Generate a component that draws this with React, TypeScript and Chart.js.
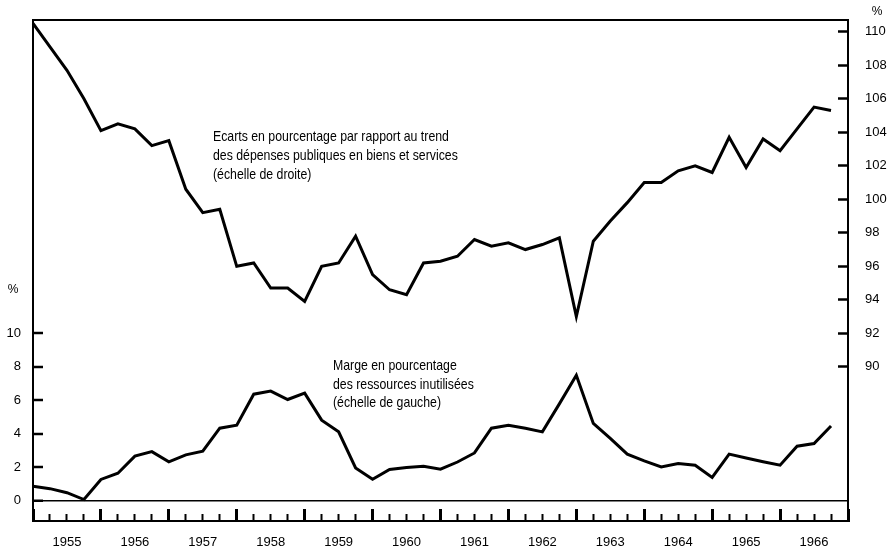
import React, { useEffect, useRef } from "react";
import { Chart, registerables } from "chart.js";

Chart.register(...registerables);

// ---- Data ----
const years = [1955, 1956, 1957, 1958, 1959, 1960, 1961, 1962, 1963, 1964, 1965, 1966];
const quarters = ["T1", "T2", "T3", "T4"];
const categories = [
  ...years.flatMap((y) => quarters.map((q) => `${y} ${q}`)),
  "1967 T1",
];

// Ecarts en pourcentage par rapport au trend des dépenses publiques (échelle de droite)
const depensesPubliques = [
  110.5, 109.1, 107.7, 106.0, 104.1, 104.5, 104.2, 103.2,
  103.5, 100.6, 99.2, 99.4, 96.0, 96.2, 94.7, 94.7,
  93.9, 96.0, 96.2, 97.8, 95.5, 94.6, 94.3, 96.2,
  96.3, 96.6, 97.6, 97.2, 97.4, 97.0, 97.3, 97.7,
  93.0, 97.5, 98.7, 99.8, 101.0, 101.0, 101.7, 102.0,
  101.6, 103.7, 101.9, 103.6, 102.9, 104.2, 105.5, 105.3,
];

// Marge en pourcentage des ressources inutilisées (échelle de gauche)
const ressourcesInutilisees = [
  0.88, 0.73, 0.49, 0.08, 1.28, 1.65, 2.67, 2.94,
  2.33, 2.75, 2.97, 4.34, 4.52, 6.37, 6.55, 6.05,
  6.43, 4.82, 4.12, 1.97, 1.29, 1.87, 1.99, 2.07,
  1.89, 2.32, 2.86, 4.34, 4.52, 4.33, 4.12, 5.79,
  7.5, 4.62, 3.73, 2.79, 2.39, 2.03, 2.23, 2.13,
  1.4, 2.79, 2.56, 2.34, 2.13, 3.26, 3.42, 4.47,
];

const leftTicks = [0, 2, 4, 6, 8, 10];
const rightTicks = [90, 92, 94, 96, 98, 100, 102, 104, 106, 108, 110];

const annotationTop = [
  "Ecarts en pourcentage par rapport au trend",
  "des dépenses publiques en biens et services",
  "(échelle de droite)",
];
const annotationBottom = [
  "Marge en pourcentage",
  "des ressources inutilisées",
  "(échelle de gauche)",
];

const FONT = "'Liberation Sans', Arial, sans-serif";

const noPad = (s: any) => {
  s.paddingTop = 0;
  s.paddingBottom = 0;
  s.paddingLeft = 0;
  s.paddingRight = 0;
};

const textPlugin = {
  id: "textPlugin",
  afterDraw(chart: any) {
    const ctx = chart.ctx;
    const sx = 0.82;
    ctx.save();
    ctx.fillStyle = "#000";
    ctx.textBaseline = "middle";
    ctx.textAlign = "left";
    ctx.font = `15px ${FONT}`;
    ctx.save();
    ctx.scale(sx, 1);
    annotationTop.forEach((t, i) => ctx.fillText(t, 213 / sx, 137 + i * 19));
    annotationBottom.forEach((t, i) => ctx.fillText(t, 333 / sx, 366 + i * 18.5));
    ctx.restore();
    ctx.font = `12px ${FONT}`;
    ctx.textAlign = "center";
    ctx.fillText("%", 13, 290);
    ctx.fillText("%", 877, 12);
    ctx.restore();
  },
};

export default function App() {
  const ref = useRef<HTMLCanvasElement | null>(null);

  useEffect(() => {
    if (!ref.current) return;
    const tickFont = { family: FONT, size: 13 };
    const chart = new Chart(ref.current, {
      type: "line",
      data: {
        labels: categories,
        datasets: [
          {
            label: "Dépenses publiques",
            data: depensesPubliques,
            yAxisID: "yR",
            xAxisID: "x",
            borderColor: "#000",
            borderWidth: 3,
            pointRadius: 0,
            tension: 0,
            fill: false,
          },
          {
            label: "Ressources inutilisées",
            data: ressourcesInutilisees,
            yAxisID: "yL",
            xAxisID: "x",
            borderColor: "#000",
            borderWidth: 3,
            pointRadius: 0,
            tension: 0,
            fill: false,
          },
        ],
      },
      options: {
        responsive: false,
        animation: false,
        devicePixelRatio: 1,
        layout: { autoPadding: false, padding: { top: 20, left: 0, right: 0, bottom: 0 } },
        plugins: {
          legend: { display: false },
          tooltip: { enabled: false },
        },
        scales: {
          x: {
            type: "category",
            position: "bottom",
            offset: false,
            afterFit: (s: any) => {
              s.height = 31;
              noPad(s);
            },
            border: { display: true, color: "#000", width: 2 },
            grid: {
              display: true,
              drawOnChartArea: false,
              drawTicks: true,
              tickLength: -12,
              tickColor: "#000",
              tickWidth: (c: any) => (c.index % 4 === 0 ? 3 : 2),
              tickBorderDash: (c: any) => (c.index % 4 === 0 ? [] : [8, 40]),
            },
            ticks: {
              autoSkip: false,
              maxRotation: 0,
              minRotation: 0,
              padding: 26,
              color: "#000",
              font: tickFont,
              callback: (_v: any, index: number) =>
                index % 4 === 2 ? String(years[Math.floor(index / 4)]) : "",
            },
          },
          xTop: {
            type: "category",
            position: "top",
            afterFit: (s: any) => {
              s.height = 0;
              noPad(s);
            },
            border: { display: true, color: "#000", width: 2 },
            grid: { display: false, drawTicks: false },
            ticks: { display: false },
          },
          yL: {
            type: "linear",
            position: "left",
            min: -1.2,
            max: 28.7,
            bounds: "data",
            afterFit: (s: any) => {
              s.width = 33;
              noPad(s);
            },
            afterBuildTicks: (s: any) => {
              s.ticks = leftTicks.map((v) => ({ value: v }));
            },
            border: { display: true, color: "#000", width: 2 },
            grid: {
              display: true,
              drawOnChartArea: true,
              drawTicks: true,
              tickLength: -10,
              tickColor: "#000",
              tickWidth: 2.5,
              color: (c: any) => (c.tick && c.tick.value === 0 ? "#000" : "rgba(0,0,0,0)"),
              lineWidth: (c: any) => (c.tick && c.tick.value === 0 ? 1.5 : 0),
            },
            ticks: {
              padding: 22,
              color: "#000",
              font: tickFont,
            },
          },
          yR: {
            type: "linear",
            position: "right",
            min: 80.8,
            max: 110.7,
            bounds: "data",
            afterFit: (s: any) => {
              s.width = 43;
              noPad(s);
            },
            afterBuildTicks: (s: any) => {
              s.ticks = rightTicks.map((v) => ({ value: v }));
            },
            border: { display: true, color: "#000", width: 2 },
            grid: {
              display: true,
              drawOnChartArea: false,
              drawTicks: true,
              tickLength: -10,
              tickColor: "#000",
              tickWidth: 2.5,
            },
            ticks: {
              padding: 27,
              color: "#000",
              font: tickFont,
            },
          },
        },
      },
      plugins: [textPlugin],
    } as any);
    return () => chart.destroy();
  }, []);

  return (
    <div style={{ position: "absolute", left: 0, top: 0, width: 891, height: 552, background: "#fff" }}>
      <canvas ref={ref} width={891} height={552} style={{ width: 891, height: 552, display: "block" }} />
    </div>
  );
}
